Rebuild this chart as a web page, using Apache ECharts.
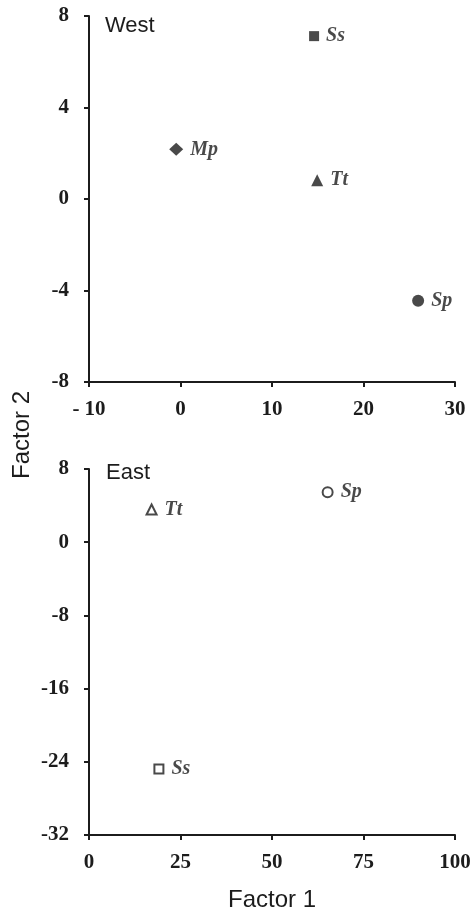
<!DOCTYPE html>
<html>
<head>
<meta charset="utf-8">
<style>
html,body{margin:0;padding:0;background:#fff;}
#chart{width:474px;height:911px;}
</style>
<script src="https://cdn.jsdelivr.net/npm/echarts@6/dist/echarts.min.js"></script>
</head>
<body>
<div id="chart"></div>
<script>
// ---- data ----
var westSpecies = ['Ss', 'Mp', 'Tt', 'Sp'];
var westX = [14.6, -0.47, 14.94, 25.97];
var westY = [7.12, 2.17, 0.82, -4.45];

var eastSpecies = ['Tt', 'Sp', 'Ss'];
var eastX = [17.1, 65.2, 19.1];
var eastY = [3.57, 5.46, -24.8];

var westXTicks = [-10, 0, 10, 20, 30];
var westYTicks = [-8, -4, 0, 4, 8];
var eastXTicks = [0, 25, 50, 75, 100];
var eastYTicks = [-32, -24, -16, -8, 0, 8];

var panelTitles = ['West', 'East'];
var xTitle = 'Factor 1';
var yTitle = 'Factor 2';

// ---- styling ----
var INK = '#1c1c1c';
var symbolFor = {Ss: 'rect', Mp: 'diamond', Tt: 'triangle', Sp: 'circle'};
var sizeFor = {Ss: 10, Mp: [14, 13], Tt: 12, Sp: 12};
var openSizeFor = {Ss: 9, Mp: 11, Tt: 10, Sp: 10};

function axisCommon(ticks) {
  return {
    type: 'value',
    min: ticks[0],
    max: ticks[ticks.length - 1],
    interval: ticks[1] - ticks[0],
    splitLine: {show: false},
    axisLine: {show: true, onZero: false, lineStyle: {color: INK, width: 2}},
    axisTick: {show: true, inside: false, length: 5, lineStyle: {color: INK, width: 2}},
    axisLabel: {
      color: INK,
      fontFamily: 'Liberation Serif',
      fontWeight: 'bold',
      fontSize: 21
    }
  };
}

var xW = axisCommon(westXTicks); xW.gridIndex = 0; xW.axisLabel.margin = 17;
var yW = axisCommon(westYTicks); yW.gridIndex = 0; yW.axisLabel.margin = 20;
var xE = axisCommon(eastXTicks); xE.gridIndex = 1; xE.axisLabel.margin = 17;
var yE = axisCommon(eastYTicks); yE.gridIndex = 1; yE.axisLabel.margin = 20;
xW.axisLabel.formatter = function (v) { return v < 0 ? '- ' + Math.abs(v) : String(v); };

var labelStyle = {
  show: true,
  position: 'right',
  distance: 7,
  color: INK,
  fontFamily: 'Liberation Serif',
  fontStyle: 'italic',
  fontWeight: 'bold',
  fontSize: 20,
  formatter: function (p) { return p.data.name; }
};

var series = [];
westSpecies.forEach(function (sp, i) {
  series.push({
    type: 'scatter',
    xAxisIndex: 0, yAxisIndex: 0,
    symbol: symbolFor[sp],
    symbolSize: sizeFor[sp],
    itemStyle: {color: INK},
    label: labelStyle,
    data: [{name: sp, value: [westX[i], westY[i]]}]
  });
});
eastSpecies.forEach(function (sp, i) {
  series.push({
    type: 'scatter',
    xAxisIndex: 1, yAxisIndex: 1,
    symbol: symbolFor[sp],
    symbolSize: openSizeFor[sp],
    itemStyle: {color: '#fff', borderColor: INK, borderWidth: 2},
    label: labelStyle,
    data: [{name: sp, value: [eastX[i], eastY[i]]}]
  });
});

var chart = echarts.init(document.getElementById('chart'), null, {renderer: 'canvas'});
chart.setOption({
  animation: false,
  backgroundColor: '#fff',
  grid: [
    {left: 89, top: 16, width: 366, height: 366},
    {left: 89, top: 469, width: 366, height: 366}
  ],
  xAxis: [xW, xE],
  yAxis: [yW, yE],
  series: series,
  graphic: [
    {type: 'text', left: 105, top: 15, style: {text: panelTitles[0], font: '22px "Liberation Sans", Arial, sans-serif', fill: INK}},
    {type: 'text', left: 106, top: 462, style: {text: panelTitles[1], font: '22px "Liberation Sans", Arial, sans-serif', fill: INK}},
    {type: 'text', x: 272, y: 900, style: {text: xTitle, font: '24px "Liberation Sans", Arial, sans-serif', fill: INK, textAlign: 'center', textVerticalAlign: 'middle'}},
    {type: 'text', x: 22, y: 435, rotation: Math.PI / 2, style: {text: yTitle, font: '24px "Liberation Sans", Arial, sans-serif', fill: INK, textAlign: 'center', textVerticalAlign: 'middle'}}
  ]
});
</script>
</body>
</html>
